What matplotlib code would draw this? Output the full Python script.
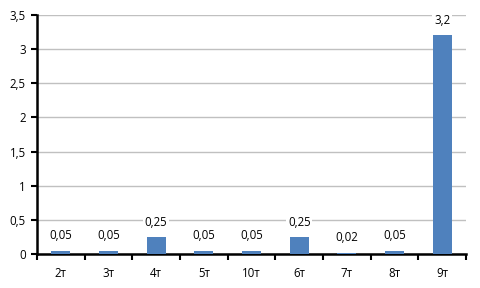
import matplotlib
matplotlib.use("Agg")
import matplotlib.pyplot as plt
import numpy as np

categories = ["2т", "3т", "4т", "5т", "10т", "6т", "7т", "8т", "9т"]
values = [0.05, 0.05, 0.25, 0.05, 0.05, 0.25, 0.02, 0.05, 3.2]
labels = ["0,05", "0,05", "0,25", "0,05", "0,05", "0,25", "0,02", "0,05", "3,2"]
yticks = [0, 0.5, 1, 1.5, 2, 2.5, 3, 3.5]
yticklabels = ["0", "0,5", "1", "1,5", "2", "2,5", "3", "3,5"]

plt.rcParams['font.family'] = ['Open Sans', 'DejaVu Sans']
fig = plt.figure(figsize=(4.8, 2.88), dpi=100)
ax = fig.add_axes([0.077, 0.118, 0.894, 0.830])
x = np.arange(len(categories))
ax.bar(x, values, width=0.4, color="#4F81BD", zorder=3)
ax.set_xlim(-0.5, len(categories) - 0.5)
ax.set_ylim(0, 3.5)
ax.set_yticks(yticks)
ax.set_yticklabels(yticklabels, fontsize=8.3)
ax.set_xticks(x)
ax.set_xticklabels(categories, fontsize=8.3)
ax.tick_params(axis='x', length=0, pad=9)
ax.set_xticks(np.arange(-0.5, len(categories)), minor=True)
ax.tick_params(axis='x', which='minor', length=4, width=1.5, direction='out')
ax.tick_params(axis='y', length=4, width=1.5, direction='out', pad=4)
ax.yaxis.grid(True, color="#C0C0C0", linewidth=1, zorder=0)
ax.set_axisbelow(True)
for s in ['top', 'right']:
    ax.spines[s].set_visible(False)
for s in ['left', 'bottom']:
    ax.spines[s].set_linewidth(1.8)
    ax.spines[s].set_color('black')
for xi, v, lab in zip(x, values, labels):
    ax.annotate(lab, (xi, v), xytext=(0, 6), textcoords='offset points',
                ha='center', va='bottom', fontsize=8.3,
                bbox=dict(boxstyle='square,pad=0.15', fc='white', ec='none'), zorder=4)
fig.savefig("out.png", dpi=100)
